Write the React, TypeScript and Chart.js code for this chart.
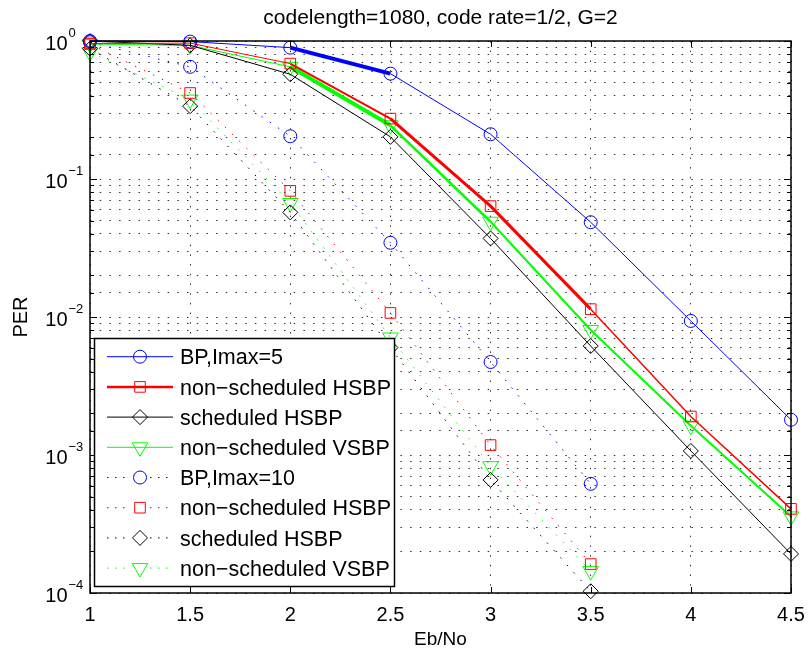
import React, { useEffect, useRef } from "react";
import { Chart, registerables } from "chart.js";

Chart.register(...registerables);

// ---------- data ----------
const EBNO_5 = [1, 1.5, 2, 2.5, 3, 3.5, 4, 4.5];
const EBNO_10 = [1, 1.5, 2, 2.5, 3, 3.5];

const BP_IMAX5 = [1.0, 0.99, 0.895, 0.58, 0.211, 0.0486, 0.00936, 0.0018];
const NS_HSBP_5 = [0.96, 0.965, 0.686, 0.274, 0.0636, 0.0114, 0.0019, 0.000407];
const S_HSBP_5 = [1.0, 0.93, 0.574, 0.202, 0.0371, 0.00616, 0.00107, 0.000192];
const NS_VSBP_5 = [0.95, 0.93, 0.65, 0.245, 0.049, 0.00805, 0.00163, 0.000359];

const BP_IMAX10 = [0.98, 0.65, 0.204, 0.0345, 0.00472, 0.000618];
const NS_HSBP_10 = [0.95, 0.42, 0.082, 0.0107, 0.00118, 0.000162];
const S_HSBP_10 = [0.88, 0.337, 0.0573, 0.006, 0.00066, 0.000103];
const NS_VSBP_10 = [0.83, 0.376, 0.067, 0.0071, 0.00083, 0.000144];

const X_TICKS = [1, 1.5, 2, 2.5, 3, 3.5, 4, 4.5];
const X_TICK_LABELS = ["1", "1.5", "2", "2.5", "3", "3.5", "4", "4.5"];
const Y_DECADES = [0, -1, -2, -3, -4];
const Y_EXP_LABELS = ["0", "\u22121", "\u22122", "\u22123", "\u22124"];

const LEGEND_LABELS = [
  "BP,Imax=5",
  "non\u2212scheduled HSBP",
  "scheduled HSBP",
  "non\u2212scheduled VSBP",
  "BP,Imax=10",
  "non\u2212scheduled HSBP",
  "scheduled HSBP",
  "non\u2212scheduled VSBP",
];

const TITLE = "codelength=1080, code rate=1/2, G=2";
const X_TITLE = "Eb/No";
const Y_TITLE = "PER";

// ---------- styles ----------
const FONT = '"Liberation Sans", Arial, Helvetica, sans-serif';
const BLUE = "#0000ff";
const RED = "#ff0000";
const BLACK = "#000000";
const GREEN = "#00ff00";
const DOT_DASH = [1.5, 8.5];
const GRID_DASH = [1.5, 8.2];

const BLUE_SEG_W = [1, 1, 4, 1, 1, 1, 1];
const RED_SEG_W = [1, 1, 2, 3, 3, 1.5, 1.5];
const BLACK_SEG_W = [1, 1, 1, 1, 1, 1, 1];
const GREEN_SEG_W = [1, 1, 4, 2.5, 2, 2, 2];

type Series = {
  label: string;
  xs: number[];
  ys: number[];
  color: string;
  style: string;
  radius: number;
  dotted: boolean;
  segW?: number[];
  legendW: number;
};

const SERIES: Series[] = [
  { label: LEGEND_LABELS[0], xs: EBNO_5, ys: BP_IMAX5, color: BLUE, style: "circle", radius: 6.5, dotted: false, segW: BLUE_SEG_W, legendW: 1 },
  { label: LEGEND_LABELS[1], xs: EBNO_5, ys: NS_HSBP_5, color: RED, style: "rect", radius: 7.5, dotted: false, segW: RED_SEG_W, legendW: 2.5 },
  { label: LEGEND_LABELS[2], xs: EBNO_5, ys: S_HSBP_5, color: BLACK, style: "rectRot", radius: 7.5, dotted: false, segW: BLACK_SEG_W, legendW: 1 },
  { label: LEGEND_LABELS[3], xs: EBNO_5, ys: NS_VSBP_5, color: GREEN, style: "triangleDown", radius: 9, dotted: false, segW: GREEN_SEG_W, legendW: 1 },
  { label: LEGEND_LABELS[4], xs: EBNO_10, ys: BP_IMAX10, color: BLUE, style: "circle", radius: 6.5, dotted: true, legendW: 1 },
  { label: LEGEND_LABELS[5], xs: EBNO_10, ys: NS_HSBP_10, color: RED, style: "rect", radius: 7.5, dotted: true, legendW: 1 },
  { label: LEGEND_LABELS[6], xs: EBNO_10, ys: S_HSBP_10, color: BLACK, style: "rectRot", radius: 7.5, dotted: true, legendW: 1 },
  { label: LEGEND_LABELS[7], xs: EBNO_10, ys: NS_VSBP_10, color: GREEN, style: "triangleDown", radius: 9, dotted: true, legendW: 1 },
];

function drawMarker(ctx: CanvasRenderingContext2D, style: string, x: number, y: number, r: number) {
  ctx.beginPath();
  if (style === "circle") {
    ctx.arc(x, y, r, 0, Math.PI * 2);
  } else if (style === "rect") {
    const s = r * Math.SQRT1_2;
    ctx.rect(x - s, y - s, 2 * s, 2 * s);
  } else if (style === "rectRot") {
    ctx.moveTo(x, y - r);
    ctx.lineTo(x + r, y);
    ctx.lineTo(x, y + r);
    ctx.lineTo(x - r, y);
    ctx.closePath();
  } else {
    ctx.moveTo(x, y + r);
    ctx.lineTo(x + 0.866 * r, y - 0.5 * r);
    ctx.lineTo(x - 0.866 * r, y - 0.5 * r);
    ctx.closePath();
  }
  ctx.stroke();
}

const decorPlugin = {
  id: "decor",
  afterDatasetsDraw(chart: any) {
    const ctx: CanvasRenderingContext2D = chart.ctx;
    const { left, right, top, bottom } = chart.chartArea;
    const xs = chart.scales.x;
    const ys = chart.scales.y;
    ctx.save();

    // axes box
    ctx.strokeStyle = "#000";
    ctx.lineWidth = 1.5;
    ctx.setLineDash([]);
    ctx.strokeRect(left, top, right - left, bottom - top);

    // inward tick marks
    ctx.lineWidth = 1;
    ctx.beginPath();
    X_TICKS.forEach((v) => {
      const px = Math.round(xs.getPixelForValue(v)) + 0.5;
      ctx.moveTo(px, bottom);
      ctx.lineTo(px, bottom - 6);
      ctx.moveTo(px, top);
      ctx.lineTo(px, top + 6);
    });
    ys.ticks.forEach((t: any) => {
      const v = t.value;
      const e = Math.log10(v);
      const major = Math.abs(e - Math.round(e)) < 1e-6;
      const len = major ? 7 : 4;
      const py = Math.round(ys.getPixelForValue(v)) + 0.5;
      ctx.moveTo(left, py);
      ctx.lineTo(left + len, py);
      ctx.moveTo(right, py);
      ctx.lineTo(right - len, py);
    });
    ctx.stroke();

    // legend
    const lx0 = 94.5, ly0 = 338.5, lx1 = 394.5, ly1 = 586.5;
    ctx.fillStyle = "#fff";
    ctx.fillRect(lx0, ly0, lx1 - lx0, ly1 - ly0);
    ctx.strokeStyle = "#000";
    ctx.lineWidth = 1.5;
    ctx.strokeRect(lx0, ly0, lx1 - lx0, ly1 - ly0);
    const rowStep = 30.2;
    const row0 = 356.7;
    const lineA = 107, lineB = 173, mx = 140;
    ctx.font = `21.5px ${FONT}`;
    ctx.textAlign = "left";
    ctx.textBaseline = "alphabetic";
    SERIES.forEach((s, i) => {
      const cy = row0 + i * rowStep;
      ctx.strokeStyle = s.color;
      if (s.dotted) {
        ctx.lineWidth = 1;
        ctx.setLineDash([1.5, 6.5]);
        ctx.beginPath();
        ctx.moveTo(lineA, cy);
        ctx.lineTo(mx - 9, cy);
        ctx.moveTo(mx + 10, cy);
        ctx.lineTo(lineB, cy);
        ctx.stroke();
      } else {
        ctx.lineWidth = s.legendW;
        ctx.setLineDash([]);
        ctx.beginPath();
        ctx.moveTo(lineA, cy);
        ctx.lineTo(lineB, cy);
        ctx.stroke();
      }
      ctx.setLineDash([]);
      ctx.lineWidth = 1;
      drawMarker(ctx, s.style, mx, cy, s.radius);
      ctx.fillStyle = "#000";
      ctx.fillText(s.label, 180, cy + 7.7);
    });

    // tick labels
    ctx.fillStyle = "#000";
    ctx.font = `20px ${FONT}`;
    ctx.textAlign = "center";
    X_TICKS.forEach((v, i) => {
      ctx.fillText(X_TICK_LABELS[i], xs.getPixelForValue(v), bottom + 27.5);
    });
    Y_DECADES.forEach((e, i) => {
      const py = ys.getPixelForValue(Math.pow(10, e));
      ctx.font = `20px ${FONT}`;
      ctx.textAlign = "right";
      ctx.fillText("10", 67.5, py + 9);
      ctx.font = `13px ${FONT}`;
      ctx.textAlign = "left";
      ctx.fillText(Y_EXP_LABELS[i], 68.5, py - 4.5);
    });

    // titles
    ctx.font = `21px ${FONT}`;
    ctx.textAlign = "center";
    ctx.fillText(TITLE, (left + right) / 2, 24);
    ctx.font = `19px ${FONT}`;
    ctx.fillText(X_TITLE, (left + right) / 2, 645);
    ctx.save();
    ctx.translate(27, (top + bottom) / 2);
    ctx.rotate(-Math.PI / 2);
    ctx.font = `20px ${FONT}`;
    ctx.textAlign = "center";
    ctx.fillText(Y_TITLE, 0, 0);
    ctx.restore();

    ctx.restore();
  },
};

export default function App() {
  const ref = useRef<HTMLCanvasElement | null>(null);

  useEffect(() => {
    if (!ref.current) return;
    const datasets = SERIES.map((s) => ({
      label: s.label,
      data: s.xs.map((x, i) => ({ x, y: s.ys[i] })),
      borderColor: s.color,
      backgroundColor: "transparent",
      borderWidth: 1,
      borderDash: s.dotted ? DOT_DASH : [],
      pointStyle: s.style === "triangleDown" ? "triangle" : s.style,
      pointRotation: s.style === "triangleDown" ? 180 : 0,
      pointRadius: s.radius,
      pointBorderColor: s.color,
      pointBackgroundColor: "transparent",
      pointBorderWidth: 1,
      tension: 0,
      clip: false as any,
      segment: s.segW
        ? { borderWidth: (c: any) => (s.segW as number[])[c.p0DataIndex] }
        : undefined,
    }));

    const chart = new Chart(ref.current, {
      type: "line",
      data: { datasets: datasets as any },
      options: {
        animation: false,
        responsive: false,
        maintainAspectRatio: false,
        layout: { padding: { left: 0, right: 17, top: 41, bottom: 0 } },
        plugins: {
          legend: { display: false },
          title: { display: false },
          tooltip: { enabled: false },
        },
        scales: {
          x: {
            type: "linear",
            min: 1,
            max: 4.5,
            ticks: { display: false, stepSize: 0.5 },
            grid: { color: "#333", lineWidth: 1, drawTicks: false },
            border: { display: false, dash: GRID_DASH },
            afterFit: (s: any) => {
              s.height = 58;
            },
          },
          y: {
            type: "logarithmic",
            min: 1e-4,
            max: 1,
            ticks: { display: false, autoSkip: false },
            grid: { color: "#333", lineWidth: 1, drawTicks: false },
            border: { display: false, dash: GRID_DASH },
            afterFit: (s: any) => {
              s.width = 90;
            },
          },
        },
      } as any,
      plugins: [decorPlugin],
    });
    return () => chart.destroy();
  }, []);

  return (
    <div style={{ position: "fixed", left: 0, top: 0, width: 808, height: 651, background: "#fff" }}>
      <canvas ref={ref} width={808} height={651} style={{ display: "block", width: 808, height: 651 }} />
    </div>
  );
}
